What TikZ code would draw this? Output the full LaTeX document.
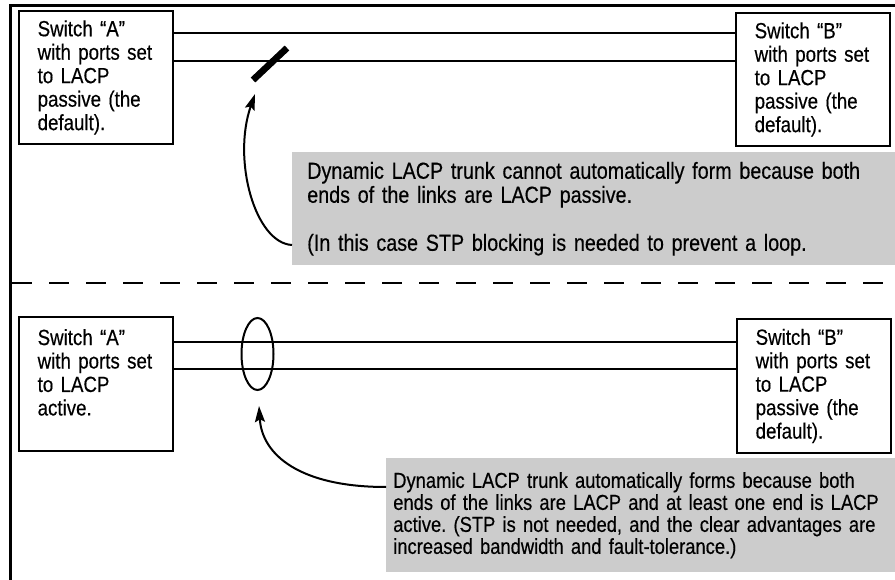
\documentclass[tikz,border=0pt]{standalone}
\usepackage{fontspec}
\setmainfont{Liberation Sans}[FakeStretch=0.85,FakeBold=0.4]
\usetikzlibrary{arrows.meta,shapes.geometric}
\frenchspacing

\definecolor{notegray}{RGB}{204,204,204}

\tikzset{
  switchbox/.style={draw, line width=1.5pt, anchor=north west, align=left,
    inner xsep=14pt, inner ysep=0pt, text width=87.5pt, minimum width=115.5pt,
    minimum height=99.75pt, font=\fontsize{16.5}{17.6}\selectfont},
  notebox/.style={fill=notegray, anchor=north west, align=left, inner ysep=0pt},
  link/.style={line width=1.5pt},
  pointer/.style={line width=1.5pt, -{Stealth[length=12pt,width=7.5pt,inset=2pt]}},
  blockbar/.style={line width=5pt},
  trunk/.style={draw, ellipse, line width=1.5pt, inner sep=0pt,
    minimum width=24pt, minimum height=54pt},
}

\begin{document}
\begin{tikzpicture}[x=0.75pt,y=0.75pt,yscale=-1,xscale=1]
\path[use as bounding box] (0,0) rectangle (895,580);

%Frame
\draw [line width=2.6pt] (10.5,580) -- (10.5,5.5) -- (895,5.5) ;
%Divider
\draw [line width=2.2pt, dash pattern=on 15pt off 12.75pt] (12,283) -- (895,283) ;

%upper case: both ends passive
\node [switchbox] (boxA1) at (18,10) {Switch “A”\\with ports set\\to LACP\\passive (the\\default).};
\node [switchbox] (boxB1) at (735,12) {Switch “B”\\with ports set\\to LACP\\passive (the\\default).};
\coordinate (ytop1) at (0,33);
\coordinate (ytop2) at (0,61);
\draw [link] (boxA1.east |- ytop1) -- (boxB1.west |- ytop1) ;
\draw [link] (boxA1.east |- ytop2) -- (boxB1.west |- ytop2) ;
%Shape: blocked link
\draw [blockbar] (253,80) -- (287,48) ;
\coordinate (blockpt) at (255,94);

% Text Node
\node [notebox, inner xsep=11.25pt, text width=429.75pt, minimum width=452.25pt,
  minimum height=84.75pt, font=\fontsize{17.4}{18}\selectfont] (note1) at (292,152)
  {Dynamic LACP trunk cannot automatically form because both\\ends of the links are LACP passive.\\[18pt](In this case STP blocking is needed to prevent a loop.};
\coordinate (ynote1) at (0,245);
\draw [pointer] (note1.west |- ynote1) .. controls (255,243) and (232,160) .. (blockpt) ;

%lower case: one end active
\node [switchbox, minimum width=114.75pt, minimum height=100.5pt] (boxA2) at (18,316) {Switch “A”\\with ports set\\to LACP\\active.\\~};
\node [switchbox, minimum height=100.5pt] (boxB2) at (736,318) {Switch “B”\\with ports set\\to LACP\\passive (the\\default).};
\coordinate (ybot1) at (0,342);
\coordinate (ybot2) at (0,369);
\draw [link] (boxA2.east |- ybot1) -- (boxB2.west |- ybot1) ;
\draw [link] (boxA2.east |- ybot2) -- (boxB2.west |- ybot2) ;
%Shape: Ellipse
\node [trunk] (bundle) at (257.5,354) {};
\coordinate (bundlept) at (259,406);

% Text Node
\node [notebox, inner xsep=5.25pt, text width=371.25pt, minimum width=381.75pt,
  minimum height=85.5pt, font=\fontsize{16.2}{16.5}\selectfont] (note2) at (386,458)
  {Dynamic LACP trunk automatically forms because both\\ends of the links are LACP and at least one end is LACP\\active. (STP is not needed, and the clear advantages are\\increased bandwidth and fault-tolerance.)};
\coordinate (ynote2) at (0,487);
\draw [pointer] (note2.west |- ynote2) .. controls (300,487) and (262,455) .. (bundlept) ;

\end{tikzpicture}
\end{document}
